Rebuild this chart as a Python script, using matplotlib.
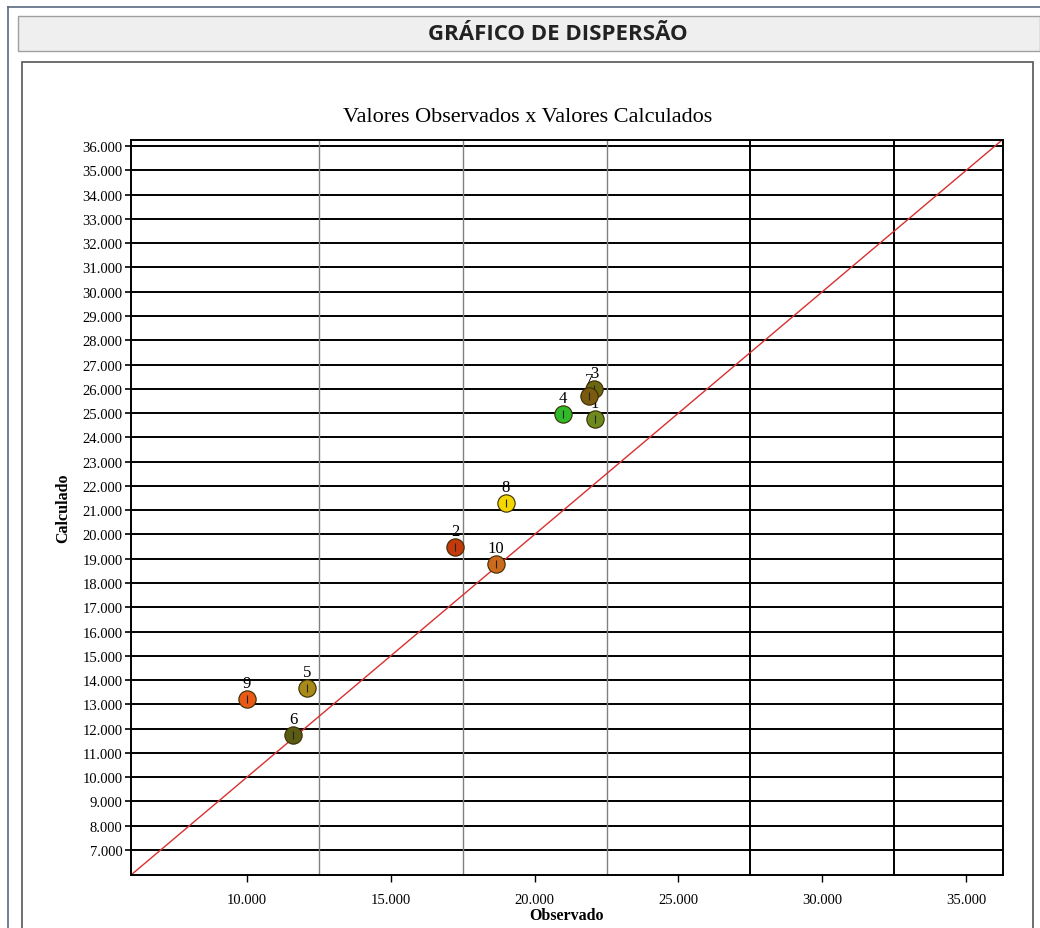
import numpy as np
import matplotlib
matplotlib.use("Agg")
import matplotlib.pyplot as plt
from matplotlib.patches import Rectangle
from matplotlib.lines import Line2D

# --------- data --------------------------------------------------------------
pt_ids = ["1", "2", "3", "4", "5", "6", "7", "8", "9", "10"]
observado = [22100, 17230, 22060, 20990, 12090, 11600, 21890, 19000, 10000, 18660]
calculado = [24750, 19480, 25990, 24960, 13670, 11740, 25700, 21290, 13220, 18780]
pt_colors = ["#6e8a1e", "#c23a0c", "#6a6612", "#2fba2a", "#a88a18",
             "#5a5c14", "#7a5a0e", "#f4d600", "#e85a16", "#cc6a1c"]

y_ticks = list(range(7000, 36001, 1000))
x_ticks = list(range(10000, 35001, 5000))
grid_x_gray = [12500, 17500, 22500]
grid_x_black = [27500, 32500]

LIM_LO, LIM_X_HI, LIM_Y_HI = 5970, 36280, 36250


def fmt_br(v):
    return f"{v:,.0f}".replace(",", ".")


W, H = 1040, 929
fig = plt.figure(figsize=(W / 100, H / 100), dpi=100)
fig.patch.set_facecolor("white")


def fx(px):
    return px / W


def fy(py):
    return 1 - py / H


# outer frame, header bar and inner panel (kept behind the axes)
fig.add_artist(Line2D([fx(8), fx(8)], [fy(8), 0], color="#5a6a80", lw=1.2, zorder=-5))
fig.add_artist(Line2D([fx(8), 1], [fy(8), fy(8)], color="#5a6a80", lw=1.2, zorder=-5))
fig.add_artist(Rectangle((fx(18), fy(52)), fx(1040 - 18), (52 - 17) / H,
                         facecolor="#efefef", edgecolor="#a0a0a0", lw=1.0, zorder=-5))
fig.text(fx(558), fy(35), "GRÁFICO DE DISPERSÃO", ha="center", va="center",
         fontsize=16, fontweight="bold", family="Open Sans", color="#222222")
fig.add_artist(Rectangle((fx(22), -0.01), fx(1033 - 22), fy(63) + 0.01,
                         facecolor="white", edgecolor="#555555", lw=1.2, zorder=-5))

fig.text(fx(528), fy(117), "Valores Observados x Valores Calculados",
         ha="center", va="center", fontsize=16, family="Liberation Serif")

ax = fig.add_axes([fx(131), fy(876), fx(1003 - 131), (876 - 141) / H])
ax.set_zorder(2)
ax.patch.set_alpha(0)
ax.set_xlim(LIM_LO, LIM_X_HI)
ax.set_ylim(LIM_LO, LIM_Y_HI)

for v in y_ticks:
    ax.axhline(v, color="black", lw=1.4, zorder=1)
for v in grid_x_gray:
    ax.axvline(v, color="#808080", lw=1.0, zorder=1)
for v in grid_x_black:
    ax.axvline(v, color="black", lw=1.4, zorder=1)

# y = x reference line
ax.plot([LIM_LO, LIM_X_HI], [LIM_LO, LIM_X_HI], color="#d83030", lw=1.0, zorder=2)

# labels sit under the markers, so the label of point 1 hides behind 7 and 3
for i, (x, y) in enumerate(zip(observado, calculado)):
    z = 3 + i * 0.1
    ax.scatter([x], [y], s=155, color=pt_colors[i], edgecolor="#3a2a00",
               linewidth=0.8, zorder=z)
    ax.plot([x], [y], marker="|", ms=6, color="#222222", mew=0.8, zorder=z + 0.01)
    ax.annotate(pt_ids[i], (x, y), xytext=(0, 6), textcoords="offset points",
                ha="center", va="bottom", fontsize=12, family="Liberation Serif",
                zorder=2.5)

ax.set_yticks(y_ticks)
ax.set_yticklabels([fmt_br(v) for v in y_ticks], family="Liberation Serif", fontsize=10.5)
ax.set_xticks(x_ticks)
ax.set_xticklabels([fmt_br(v) for v in x_ticks], family="Liberation Serif", fontsize=10.5)
ax.tick_params(axis="y", length=4, width=1.2, pad=2)
ax.tick_params(axis="x", length=5, width=1.0, pad=8)

for sp in ax.spines.values():
    sp.set_color("black")
    sp.set_linewidth(1.4)

ax.set_xlabel("Observado", family="Liberation Serif", fontweight="bold", fontsize=11.5,
              labelpad=1)
ax.set_ylabel("Calculado", family="Liberation Serif", fontweight="bold", fontsize=11.5,
              labelpad=8)

fig.savefig("out.png", dpi=100)
